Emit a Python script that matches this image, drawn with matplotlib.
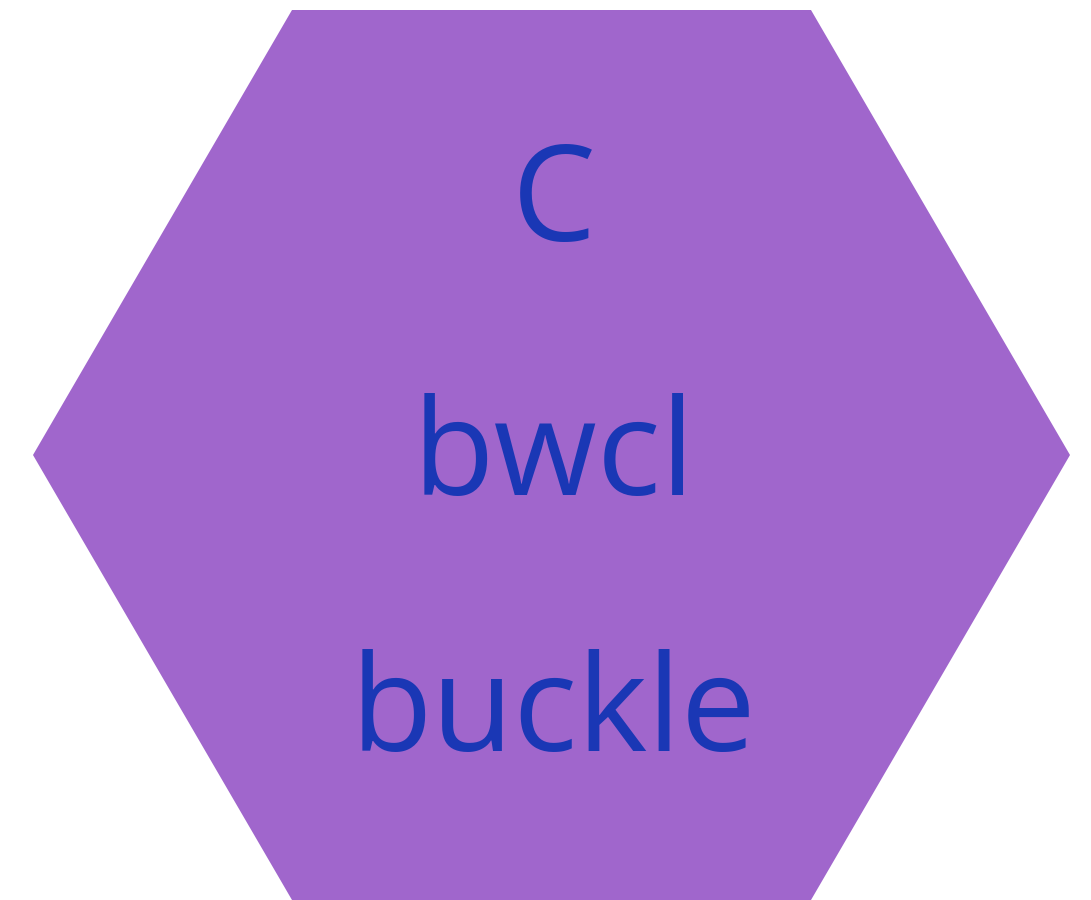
import matplotlib.pyplot as plt
from matplotlib.patches import Polygon

# Hexagon corners (pixel space, y downwards) and labels
hex_x = [292, 811, 1070, 811, 292, 33]
hex_y = [10, 10, 455, 900, 900, 455]
labels = ['C', 'bwcl', 'buckle']
label_base = [241, 495, 751]

fill_color = '#A066CC'
text_color = '#1A37B5'

fig = plt.figure(figsize=(10.91, 9), dpi=100)
ax = fig.add_axes([0, 0, 1, 1])
ax.set_xlim(0, 1091)
ax.set_ylim(900, 0)
ax.axis('off')

ax.add_patch(Polygon(list(zip(hex_x, hex_y)), closed=True,
                     facecolor=fill_color, edgecolor='none'))

for txt, y in zip(labels, label_base):
    ax.text(554, y, txt, ha='center', va='baseline', fontsize=96,
            family='Open Sans', color=text_color)

fig.savefig('out.png', dpi=100)
